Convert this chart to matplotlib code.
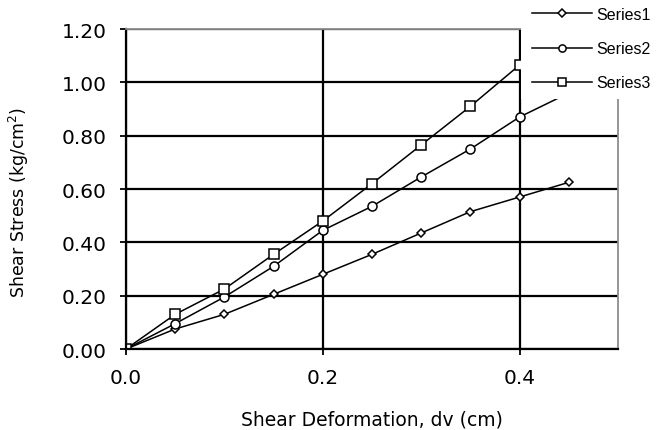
import matplotlib.pyplot as plt
from matplotlib.lines import Line2D
from matplotlib.patches import Rectangle

# shear deformation (cm) and shear stress (kg/cm2) for three normal loads
dv = [0.0, 0.05, 0.10, 0.15, 0.20, 0.25, 0.30, 0.35, 0.40, 0.45]
series1 = [0.0, 0.075, 0.13, 0.205, 0.28, 0.355, 0.435, 0.515, 0.57, 0.625]
series2 = [0.0, 0.095, 0.195, 0.31, 0.445, 0.535, 0.645, 0.75, 0.87, 0.96]
series3 = [0.0, 0.13, 0.225, 0.355, 0.48, 0.62, 0.765, 0.91, 1.065, 1.2]
names = ["Series1", "Series2", "Series3"]

W, H = 656, 431
fig = plt.figure(figsize=(W / 100, H / 100), dpi=100)
ax = fig.add_axes([126 / W, 1 - 350 / H, 492 / W, 320 / H])

markers = [("D", 4.5), ("o", 6.5), ("s", 6.5)]
for ys, name, (m, ms) in zip([series1, series2, series3], names, markers):
    ax.plot(dv, ys, color="black", lw=1.1, marker=m, ms=ms, mfc="white",
            mec="black", mew=1.1, label=name)

ax.set_xlim(0, 0.5)
ax.set_ylim(0, 1.2)
ax.set_xticks([0.0, 0.2, 0.4])
ax.set_yticks([0.0, 0.2, 0.4, 0.6, 0.8, 1.0, 1.2])
ax.set_xticklabels(["0.0", "0.2", "0.4"])
ax.set_yticklabels([f"{v:.2f}" for v in ax.get_yticks()])
ax.grid(True, color="black", lw=1.6)
ax.set_axisbelow(True)

for s in ["top", "right"]:
    ax.spines[s].set_color("#8c8c8c")
    ax.spines[s].set_linewidth(1.3)
for s in ["left", "bottom"]:
    ax.spines[s].set_color("black")
    ax.spines[s].set_linewidth(1.6)

ax.tick_params(length=4, width=1.3, labelsize=14.5, pad=10)
for lab in ax.get_xticklabels() + ax.get_yticklabels():
    lab.set_family("DejaVu Sans")

ax.set_xlabel("Shear Deformation, dv (cm)", fontsize=13.5, family="DejaVu Sans")
ax.set_ylabel("Shear Stress (kg/cm$^2$)", fontsize=12.5, family="DejaVu Sans")
ax.xaxis.set_label_coords(0.5, (350 - 411) / 320)
ax.yaxis.set_label_coords((31 - 126) / 492, (350 - 202) / 320)

# white legend area covering the top right corner, as in the original
fig.patches.append(Rectangle((521 / W, 1 - 100 / H), 1, 1, transform=fig.transFigure,
                             facecolor="white", edgecolor="none", zorder=5))

handles = [Line2D([], [], color="black", lw=1.1, marker=m, ms=ms * 0.8,
                  mfc="white", mec="black", mew=1.1) for m, ms in markers]
leg = fig.legend(handles, names, loc="upper left",
                 bbox_to_anchor=(532 / W, 1 - 8 / H), frameon=False,
                 prop={"family": "Liberation Sans", "size": 11.5},
                 handlelength=3.75, handletextpad=0.3, labelspacing=1.2,
                 borderpad=0, borderaxespad=0)
leg.set_zorder(10)

fig.savefig("out.png", dpi=100)
